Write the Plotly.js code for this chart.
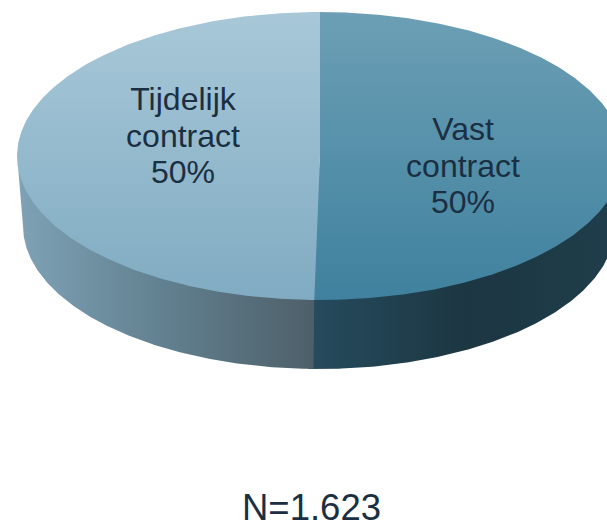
<!DOCTYPE html>
<html>
<head>
<meta charset="utf-8">
<script src="https://cdn.plot.ly/plotly-3.0.1.min.js"></script>
<style>html,body{margin:0;padding:0;background:#fff}#chart{width:607px;height:522px}</style>
</head>
<body>
<div id="chart"></div>
<script>
// Data
const categories = ['Vast contract', 'Tijdelijk contract'];
const shares = [50.3, 49.7];
const shownPercent = ['50%', '50%'];
const sampleText = 'N=1.623';

// Colours
const topColours = [['#6c9fb5', '#3f819e'], ['#a8c8d8', '#80abc2']];
const wallColours = [
  [[0, '#264c5e'], [0.5, '#1c3642'], [1, '#1f3e4b']],
  [[0, '#7fa2b6'], [0.5, '#61808f'], [1, '#4e5f69']]
];
const labelColour = '#1b2f43';

// Geometry of the tilted disc, in axis units
const cx = 320, cy = 156, rx = 303, ry = 144;
const bx = 319, by = 226, brx = 296, bry = 143;
const labelAnchors = [[463, 132], [183, 102]];
const lineStep = 36.5;
const seamOverlap = 1;   // degrees hidden under the next slice, closes anti-alias seams

function rim(a) {
  const t = a * Math.PI / 180;
  return [cx + rx * Math.sin(t), cy - ry * Math.cos(t)];
}
function wallTop(a) {
  const p = rim(a);
  return [p[0], p[1] - 2];
}
function lowerRim(a) {
  const t = a * Math.PI / 180;
  return [bx + brx * Math.sin(t), by - bry * Math.cos(t)];
}
function arc(a0, a1, f) {
  const pts = [];
  const n = Math.max(2, Math.ceil(Math.abs(a1 - a0) * 2));
  for (let i = 0; i <= n; i++) pts.push(f(a0 + (a1 - a0) * i / n));
  return pts;
}
const total = shares.reduce((a, b) => a + b, 0);
const split = 360 * shares[0] / total;

const topSlices = [[-seamOverlap, split + seamOverlap], [split, 360]];
const wallSlices = [[90, split + seamOverlap], [split, 270]];
const traces = [];

wallSlices.forEach((s, i) => {
  const pts = arc(s[0], s[1], wallTop).concat(arc(s[1], s[0], lowerRim));
  pts.push(pts[0]);
  traces.push({
    type: 'scatter', mode: 'lines', name: categories[i],
    x: pts.map(p => p[0]), y: pts.map(p => p[1]),
    line: {width: 0}, fill: 'toself',
    fillgradient: {type: 'horizontal', colorscale: wallColours[i]},
    hoverinfo: 'skip'
  });
});

topSlices.forEach((s, i) => {
  const pts = [[cx, cy]].concat(arc(s[0], s[1], rim));
  pts.push([cx, cy]);
  traces.push({
    type: 'scatter', mode: 'lines', name: categories[i],
    x: pts.map(p => p[0]), y: pts.map(p => p[1]),
    line: {width: 0}, fill: 'toself',
    fillgradient: {type: 'vertical', start: cy - ry, stop: cy + ry,
      colorscale: [[0, topColours[i][0]], [1, topColours[i][1]]]},
    hoverinfo: 'skip'
  });
});

const tx = [], ty = [], tt = [];
categories.forEach((c, i) => {
  c.split(' ').concat([shownPercent[i]]).forEach((line, j) => {
    tx.push(labelAnchors[i][0]);
    ty.push(labelAnchors[i][1] + j * lineStep);
    tt.push(line);
  });
});
traces.push({
  type: 'scatter', mode: 'text', x: tx, y: ty, text: tt,
  textposition: 'middle center',
  textfont: {family: 'Liberation Sans, Arial, sans-serif', size: 32, color: labelColour},
  hoverinfo: 'skip'
});

const layout = {
  width: 607, height: 522,
  margin: {l: 0, r: 0, t: 0, b: 0},
  paper_bgcolor: '#ffffff', plot_bgcolor: '#ffffff',
  showlegend: false,
  xaxis: {range: [0, 607], visible: false, fixedrange: true},
  yaxis: {range: [522, 0], visible: false, fixedrange: true},
  annotations: [{
    text: sampleText, x: 311, y: 507, xref: 'x', yref: 'y',
    showarrow: false, xanchor: 'center', yanchor: 'middle',
    font: {family: 'Liberation Sans, Arial, sans-serif', size: 36.5, color: labelColour}
  }]
};
Plotly.newPlot('chart', traces, layout, {displayModeBar: false, staticPlot: true});
</script>
</body>
</html>
